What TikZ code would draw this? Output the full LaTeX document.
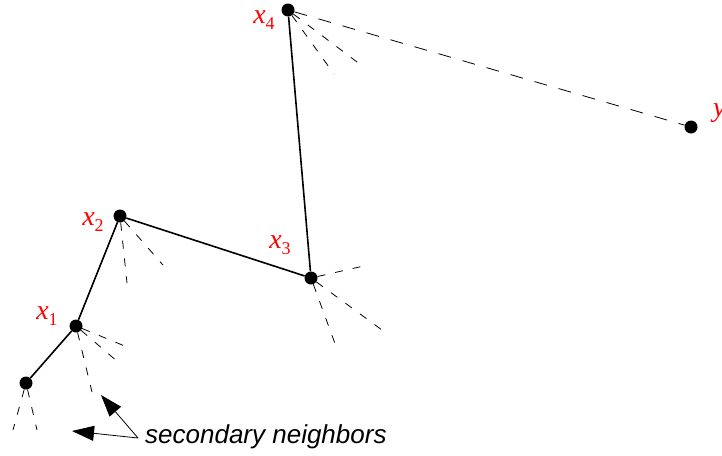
\documentclass[tikz,border=0pt]{standalone}
\usepackage{fontspec}
\setsansfont{Liberation Sans}
\newfontfamily\ptfont{Liberation Serif}
\usetikzlibrary{arrows.meta,positioning}
\newcommand{\pt}[2]{{\ptfont\itshape #1}\raisebox{-0.45ex}{\ptfont\fontsize{18}{18}\selectfont #2}}

\begin{document}
\begin{tikzpicture}[x=1pt, y=-1pt,
    dot/.style={circle, fill=black, inner sep=0pt, minimum size=13pt},
    lbl/.style={text=red, font=\fontsize{28}{28}\selectfont, inner sep=0pt},
    tour/.style={line width=1.6pt},
    nbr/.style={line width=0.8pt, dash pattern=on 8pt off 10pt},
    farnbr/.style={line width=0.8pt, dash pattern=on 13pt off 12pt},
    pointer/.style={line width=0.8pt, -{Triangle[length=22pt,width=15pt]}}]
  \useasboundingbox (0,0) rectangle (722,455);
  \node[dot] (s)  at (26,383) {};
  \node[dot] (x1) at (76,326) {};
  \node[dot] (x2) at (120,216) {};
  \node[dot] (x3) at (311,278) {};
  \node[dot] (x4) at (288,10) {};
  \node[dot] (y)  at (691,127) {};
  \node[lbl] (lx1) at (47,316) {\pt{x}{1}};
  \node[lbl] (lx2) at (93,222) {\pt{x}{2}};
  \node[lbl] (lx3) at (280,245) {\pt{x}{3}};
  \node[lbl] (lx4) at (264,20) {\pt{x}{4}};
  \node[lbl, anchor=west] (ly) at (713,113) {\pt{y}{}};
  % path found so far
  \draw[tour] (s) -- (x1) -- (x2) -- (x3) -- (x4);
  \draw[farnbr] (x4) -- (y);
  % secondary neighbors
  \coordinate (s-a) at (13,430);
  \coordinate (s-b) at (37,430);
  \coordinate (x1-a) at (92,392);
  \coordinate (x1-b) at (118,362);
  \coordinate (x1-c) at (132,349);
  \coordinate (x2-a) at (127,283);
  \coordinate (x2-b) at (163,265);
  \coordinate (x3-a) at (368,265);
  \coordinate (x3-b) at (382,330);
  \coordinate (x3-c) at (337,349);
  \coordinate (x4-a) at (334,74);
  \coordinate (x4-b) at (361,65);
  \foreach \from/\to in {s/s-a, s/s-b, x1/x1-a, x1/x1-b, x1/x1-c, x2/x2-a, x2/x2-b,
                         x3/x3-a, x3/x3-b, x3/x3-c, x4/x4-a, x4/x4-b}
    \draw[nbr] (\from) -- (\to);
  % caption with pointers
  \node[font=\sffamily\itshape\fontsize{26}{26}\selectfont, anchor=west, inner sep=0pt] (sec) at (145,437) {secondary neighbors};
  \coordinate (tip) at (138,438);
  \draw[pointer] (tip) -- (101,395);
  \draw[pointer] (tip) -- (72,431);
\end{tikzpicture}
\end{document}
